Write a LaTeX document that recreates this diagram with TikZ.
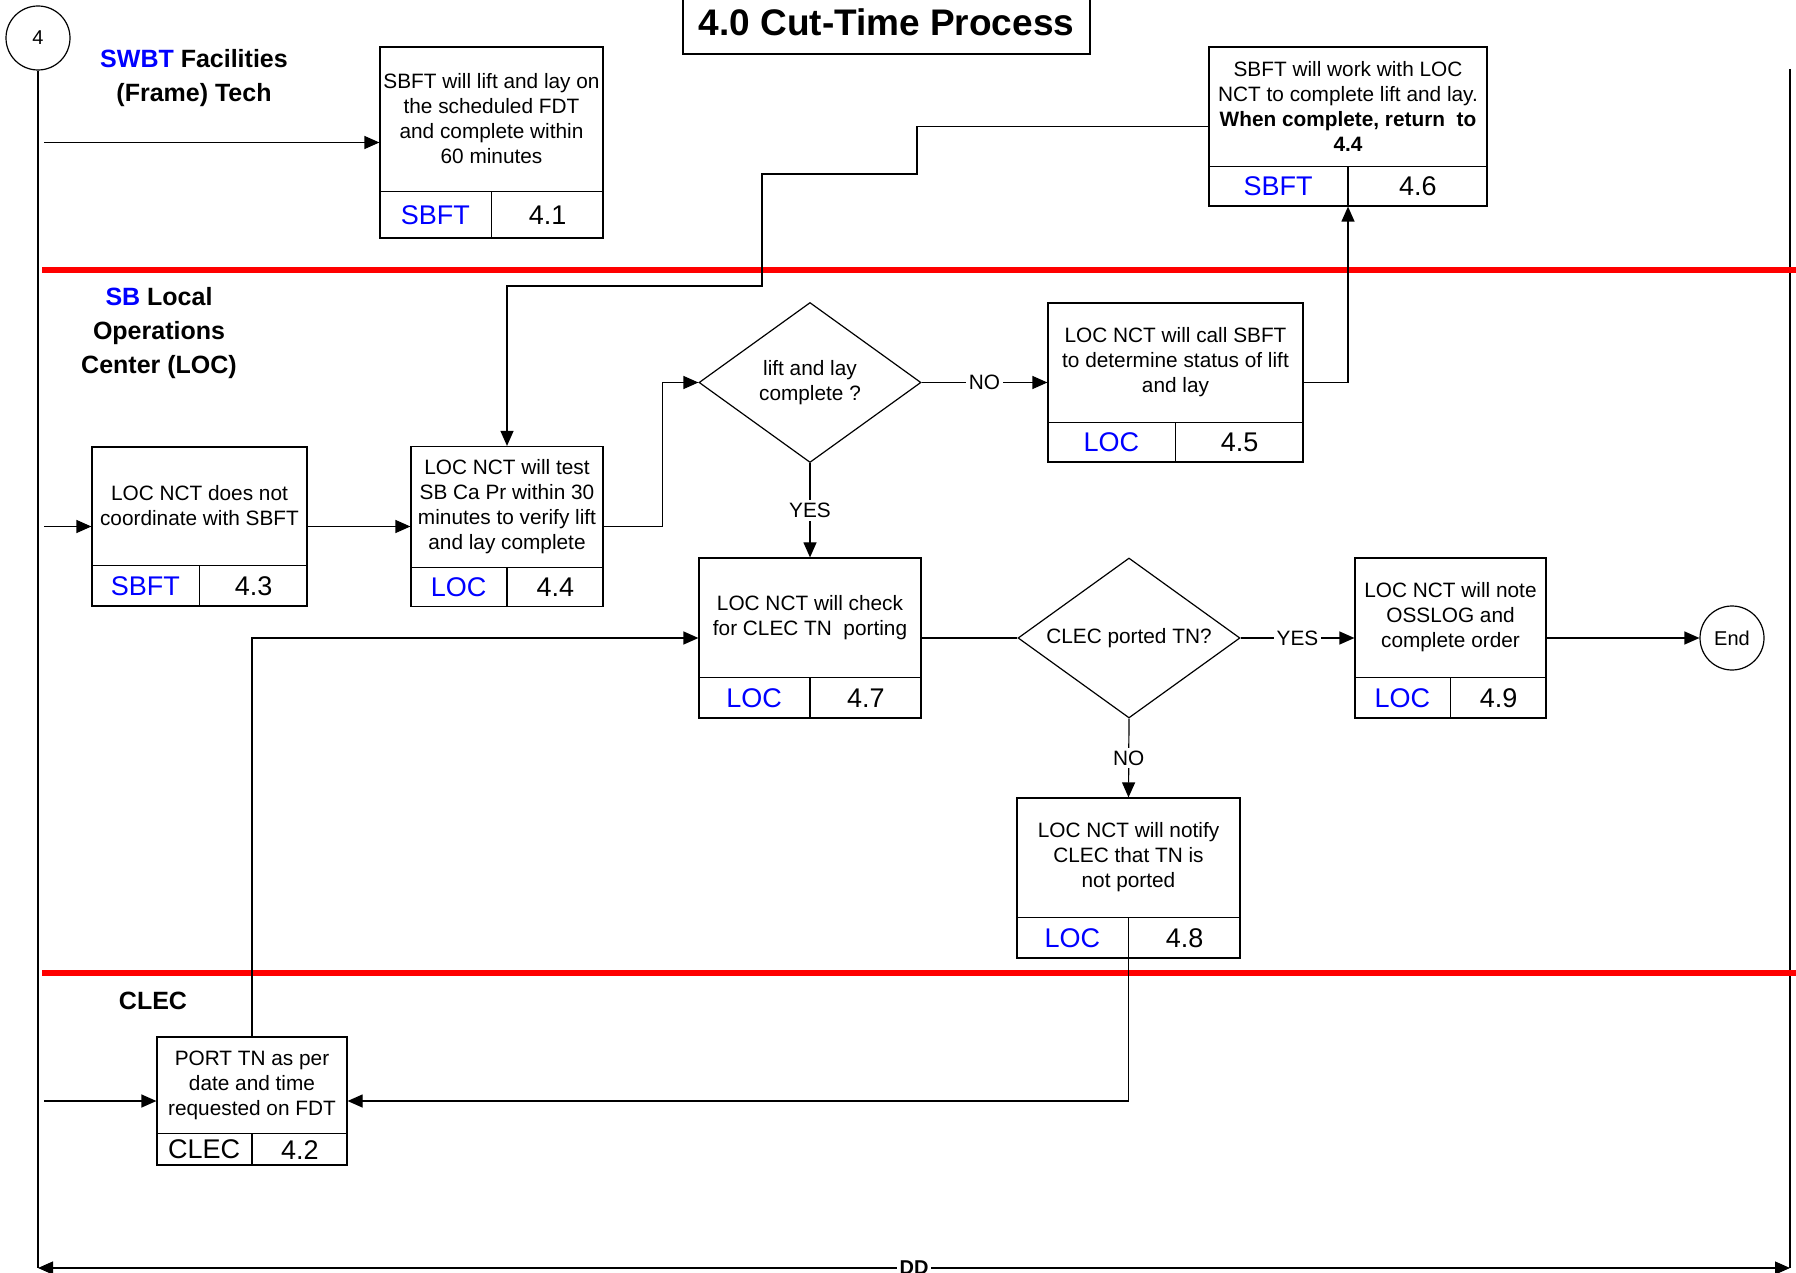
\documentclass[tikz,border=0pt]{standalone}
\usepackage{fontspec}
\setmainfont{Liberation Sans}
\usetikzlibrary{shapes.geometric,arrows.meta,calc}

\newcommand{\taskbox}[8]{%
  \node[task, minimum width=#3, minimum height=#4] (#1) at #2 {};
  \draw ([yshift=#5]#1.south west) -- ([yshift=#5]#1.south east);
  \draw (#1.south) -- ([yshift=#5]#1.south);
  \node[tasktext] (#1-t) at ($(#1.north)!0.5!([yshift=#5]#1.south)$) {#6};
  \node[owner] (#1-o) at ($(#1.south west)!0.5!([yshift=#5]#1.south)$) {#7};
  \node[stepno] (#1-n) at ($(#1.south east)!0.5!([yshift=#5]#1.south)$) {#8};
}

\begin{document}
\begin{tikzpicture}[x=0.5pt, y=-0.5pt, line width=0.6pt,
  >={Triangle[length=7.5pt,width=6.5pt]},
  task/.style={draw, rectangle, inner sep=0pt},
  tasktext/.style={align=center, inner sep=0pt, font=\fontsize{10.4}{12.5}\selectfont},
  owner/.style={text=blue, inner sep=0pt, font=\fontsize{13.5}{15}\selectfont},
  stepno/.style={inner sep=0pt, font=\fontsize{13.5}{15}\selectfont},
  decision/.style={draw, diamond, aspect=1.4, inner sep=0pt, minimum width=111pt,
    minimum height=80pt, align=center, font=\fontsize{10.4}{12.5}\selectfont},
  terminal/.style={draw, circle, minimum size=32pt, inner sep=0pt, font=\fontsize{10}{12}\selectfont},
  flow/.style={->},
  edgelabel/.style={fill=white, inner sep=1.5pt, font=\fontsize{10.4}{12}\selectfont},
  lanelabel/.style={align=center, inner sep=0pt, font=\bfseries\fontsize{12.5}{17}\selectfont},
  lanesep/.style={red, line width=3pt}]
\useasboundingbox (0,0) rectangle (1796,1273);

\node[draw, minimum width=203.5pt, minimum height=32pt, inner sep=0pt,
  font=\bfseries\fontsize{18.5}{22}\selectfont] (title) at (886.5,22) {4.0 Cut-Time Process};

\node[terminal] (c4) at (38,38) {4};
\coordinate (laneL) at (38,1268);
\coordinate (laneRT) at (1790,69);
\coordinate (laneRB) at (1790,1268);
\draw (c4.south) -- (laneL);
\draw (laneRT) -- (laneRB);

\draw[lanesep] (42,270) -- (1796,270);
\draw[lanesep] (42,973) -- (1796,973);

\node[lanelabel] (lane1) at (194,78) {\textcolor{blue}{SWBT} Facilities\\(Frame) Tech};
\node[lanelabel] (lane2) at (159,333) {\textcolor{blue}{SB} Local\\Operations\\Center (LOC)};
\node[lanelabel] (lane3) at (153,1001) {CLEC};

\taskbox{b41}{(491.5,142.5)}{111.5pt}{95.5pt}{23.5pt}{SBFT will lift and lay on\\the scheduled FDT\\and complete within\\60 minutes}{SBFT}{4.1}
\taskbox{b46}{(1348,126.5)}{139pt}{79.5pt}{20pt}{SBFT will work with LOC\\NCT to complete lift and lay.\\\textbf{When complete, return~ to}\\\textbf{4.4}}{SBFT}{4.6}
\taskbox{b43}{(199.5,526.5)}{107.5pt}{79.5pt}{20.5pt}{LOC NCT does not\\coordinate with SBFT}{SBFT}{4.3}
\taskbox{b44}{(507,526.5)}{96pt}{80pt}{20pt}{LOC NCT will test\\SB Ca Pr within 30\\minutes to verify lift\\and lay complete}{LOC}{4.4}
\taskbox{b45}{(1175.5,382.5)}{127.5pt}{79.5pt}{20pt}{LOC NCT will call SBFT\\to determine status of lift\\and lay}{LOC}{4.5}
\taskbox{b47}{(810,638)}{111pt}{80pt}{20.5pt}{LOC NCT will check\\for CLEC TN~ porting}{LOC}{4.7}
\taskbox{b49}{(1450.5,638)}{95.5pt}{80pt}{20.5pt}{LOC NCT will note\\OSSLOG and\\complete order}{LOC}{4.9}
\taskbox{b48}{(1128.5,878)}{111.5pt}{80pt}{20.5pt}{LOC NCT will notify\\CLEC that TN is\\not ported}{LOC}{4.8}
\taskbox{b42}{(252,1101)}{95pt}{64pt}{16pt}{PORT TN as per\\date and time\\requested on FDT}{\color{black}CLEC}{4.2}

\node[decision] (d1) at (810,382.5) {lift and lay\\complete ?};
\node[decision] (d2) at (1129,638) {CLEC ported TN?};
\node[terminal] (end) at (1732,638) {End};

\coordinate (in41) at (44,142.5);
\coordinate (in43) at (44,526.5);
\coordinate (in42) at (44,1101);
\draw[flow] (in41) -- (b41.west);
\draw[flow] (in43) -- (b43.west);
\draw[flow] (in42) -- (b42.west);

\draw[flow] (b43.east) -- (b44.west);
\draw[flow] (b44.east) -- ++(59,0) |- (d1.west);
\draw[flow] (d1.east) -- node[edgelabel] (no1) {NO} (b45.west);
\draw[flow] (d1.south) -- node[edgelabel] (yes1) {YES} (b47.north);
\draw[flow] (b45.east) -| (b46.south);
\draw[flow] (b46.west) -| (917,174) -| (762,286) -| (b44.north);
\draw (b47.east) -- (d2.west);
\draw[flow] (d2.east) -- node[edgelabel] (yes2) {YES} (b49.west);
\draw[flow] (d2.south) -- node[edgelabel] (no2) {NO} (b48.north);
\draw[flow] (b49.east) -- (end.west);
\draw[flow] (b48.south) |- (b42.east);
\draw[flow] (b42.north) |- (b47.west);

\coordinate (ddL) at (38,1268);
\coordinate (ddR) at (1790,1268);
\draw[<->] (ddL) -- node[edgelabel, font=\bfseries\fontsize{10}{12}\selectfont] (dd) {DD} (ddR);
\end{tikzpicture}
\end{document}
